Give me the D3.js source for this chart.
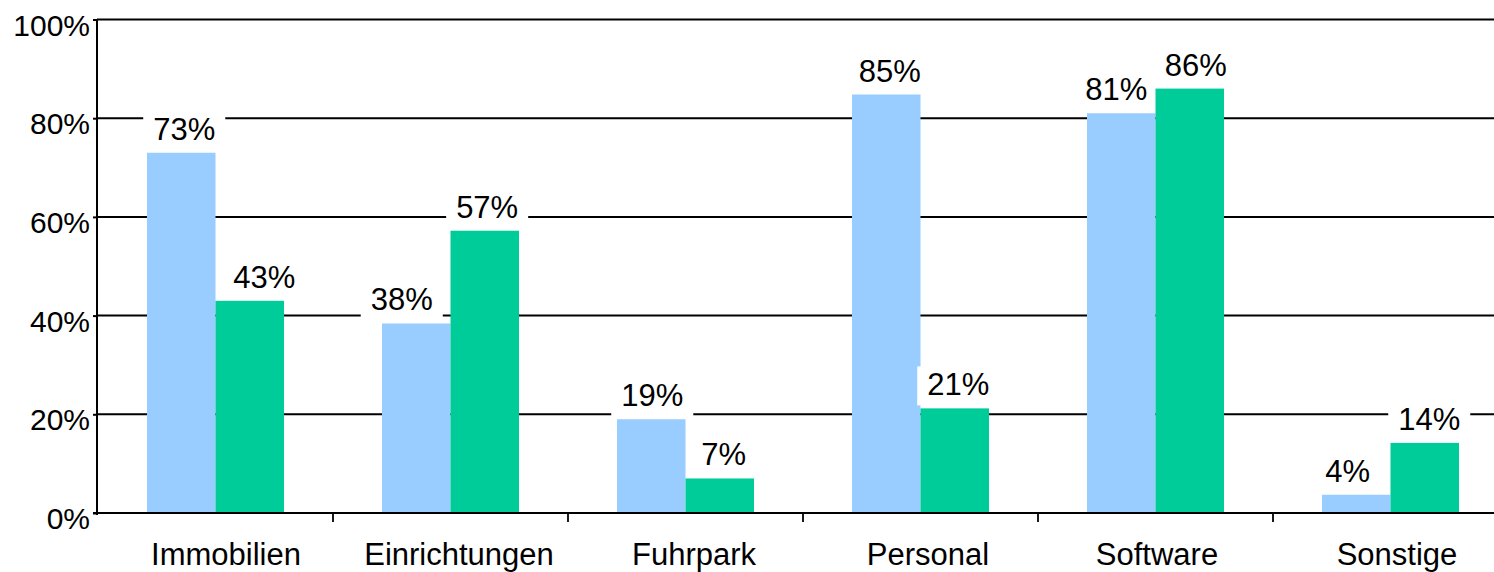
<!DOCTYPE html>
<html>
<head>
<meta charset="utf-8">
<script src="https://cdn.jsdelivr.net/npm/d3@7"></script>
<style>
  html, body { margin: 0; padding: 0; background: #fff; }
  svg { display: block; }
  text { font-family: "Liberation Sans", Arial, sans-serif; fill: #000; }
</style>
</head>
<body>
<svg id="chart" width="1494" height="572"></svg>
<script>
// ---- data ----
const categories = ["Immobilien", "Einrichtungen", "Fuhrpark", "Personal", "Software", "Sonstige"];
const seriesBlue = [73, 38.4, 19, 84.8, 81, 3.7];
const seriesGreen = [43, 57.2, 7, 21.2, 86, 14.2];
const yTicks = [0, 20, 40, 60, 80, 100];
const tickLabels = ["0%", "20%", "40%", "60%", "80%", "100%"];

// ---- layout / style (not data) ----
const colors = { blue: "#99CCFF", green: "#00CC99" };
const labelNudge = { blue: [3, -14.5, 1, 3.5, -5, -8.5], green: [14.5, 2.4, 4, 3.5, 6, 4.5] };
const catNudge = [10.5, 8.5, 8.5, 7.5, 1.5, 6.5];

const svg = d3.select("#chart");
const plotLeft = 97, plotTop = 19.5, plotBottom = 513;

const x0 = d3.scaleBand().domain(categories).range([98, 1508]).paddingInner(0.417).paddingOuter(0.2085);
const x1 = d3.scaleBand().domain(["blue", "green"]).range([0, x0.bandwidth()]);
const y = d3.scaleLinear().domain([0, 100]).range([plotBottom, plotTop]);

// gridlines
svg.append("g").selectAll("line").data(yTicks.filter(d => d > 0)).join("line")
  .attr("x1", plotLeft).attr("x2", 1494)
  .attr("y1", d => y(d)).attr("y2", d => y(d))
  .attr("stroke", "#000").attr("stroke-width", 2);

// y axis
const yAxis = d3.axisLeft(y).tickValues(yTicks).tickSize(4).tickPadding(3)
  .tickFormat((d, i) => tickLabels[i]);
const gy = svg.append("g").attr("transform", `translate(${plotLeft},0)`).call(yAxis);
gy.select(".domain").remove();
gy.selectAll(".tick line").attr("stroke", "#000").attr("stroke-width", 2);
gy.selectAll(".tick text")
  .attr("dy", null).attr("y", 15.5)
  .style("font-size", "30px").style("font-family", '"Liberation Sans", Arial, sans-serif')
  .attr("fill", "#000");

function drawSeries(key, values) {
  const g = svg.append("g");
  g.selectAll("rect").data(values).join("rect")
    .attr("x", (d, i) => x0(categories[i]) + x1(key))
    .attr("y", d => y(d))
    .attr("width", x1.bandwidth())
    .attr("height", d => y(0) - y(d))
    .attr("fill", colors[key]);
  const lg = svg.append("g");
  values.forEach((d, i) => {
    const cx = x0(categories[i]) + x1(key) + x1.bandwidth() / 2 + labelNudge[key][i];
    const base = y(d) - 13;
    const t = lg.append("text")
      .attr("x", cx).attr("y", base)
      .attr("text-anchor", "middle")
      .style("font-size", "31px")
      .text(Math.round(d) + "%");
    const bb = t.node().getBBox();
    lg.insert("rect", "text")
      .attr("x", bb.x - 10).attr("width", bb.width + 20)
      .attr("y", base - 29).attr("height", 39)
      .attr("fill", "#fff");
  });
}
drawSeries("blue", seriesBlue);
drawSeries("green", seriesGreen);

// axis lines
svg.append("line").attr("x1", plotLeft).attr("x2", plotLeft).attr("y1", plotTop).attr("y2", plotBottom + 2)
  .attr("stroke", "#000").attr("stroke-width", 2);
svg.append("line").attr("x1", plotLeft - 4).attr("x2", 1494).attr("y1", plotBottom).attr("y2", plotBottom)
  .attr("stroke", "#000").attr("stroke-width", 2);

// category separators
const step = x0.step();
svg.append("g").selectAll("line").data(categories.slice(1)).join("line")
  .attr("x1", d => x0(d) - step * x0.paddingInner() / 2)
  .attr("x2", d => x0(d) - step * x0.paddingInner() / 2)
  .attr("y1", plotBottom).attr("y2", plotBottom + 9)
  .attr("stroke", "#000").attr("stroke-width", 1.8);

// category labels
svg.append("g").selectAll("text").data(categories).join("text")
  .attr("x", (d, i) => x0(d) + x0.bandwidth() / 2 + catNudge[i])
  .attr("y", 565)
  .attr("text-anchor", "middle")
  .style("font-size", "31px")
  .text(d => d);
</script>
</body>
</html>
